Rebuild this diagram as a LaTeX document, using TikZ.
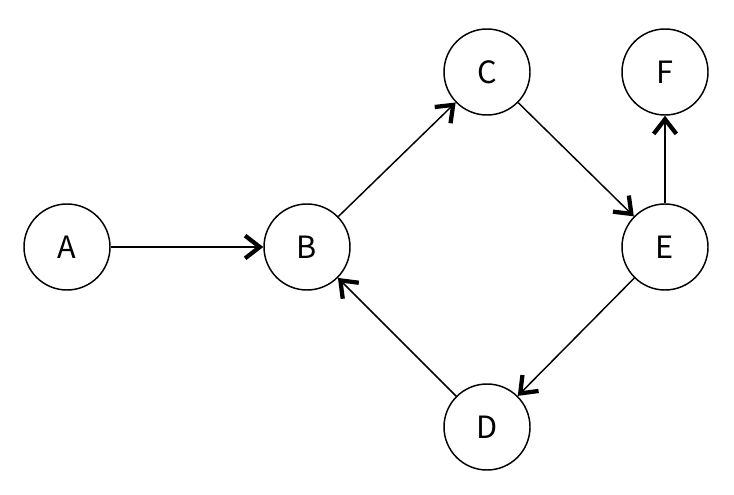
\documentclass[tikz,border=0pt]{standalone}
\usepackage{fontspec}
\setmainfont{Noto Sans CJK KR}
\usetikzlibrary{arrows.meta}
\begin{document}
\begin{tikzpicture}[x=0.75pt,y=-0.75pt,
  vertex/.style={circle,draw,line width=1.1pt,minimum size=64.5pt,inner sep=0pt,font=\fontsize{23}{27}\selectfont},
  edge/.style={line width=1.1pt,-{Straight Barb[length=11pt,width=17pt,line width=3.2pt]}}]
\useasboundingbox (0,0) rectangle (734,495);
\node[vertex] (A) at (67,247) {A};
\node[vertex] (B) at (307,247) {B};
\node[vertex] (C) at (487,72) {C};
\node[vertex] (F) at (665,72) {F};
\node[vertex] (E) at (665,247) {E};
\node[vertex] (D) at (487,427) {D};
\draw[edge] (A) -- (B);
\draw[edge] (B) -- (C);
\draw[edge] (C) -- (E);
\draw[edge] (E) -- (F);
\draw[edge] (E) -- (D);
\draw[edge] (D) -- (B);
\end{tikzpicture}
\end{document}
